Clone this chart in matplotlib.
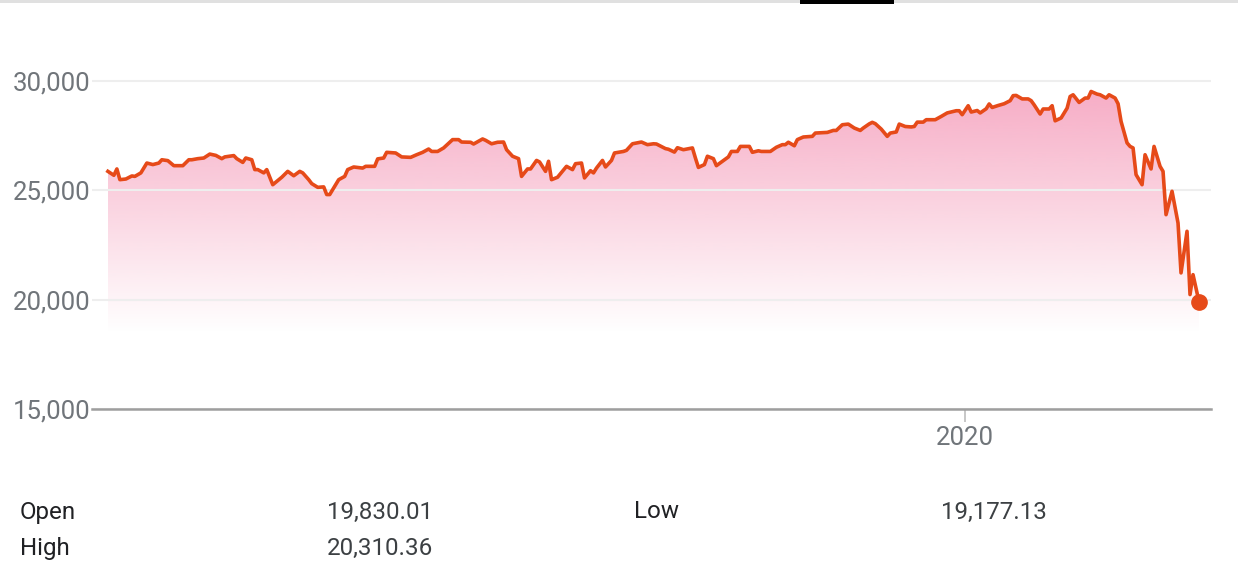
import numpy as np
import pandas as pd
import matplotlib
matplotlib.use("Agg")
import matplotlib.pyplot as plt
import matplotlib.dates as mdates
from matplotlib.patches import Rectangle
from matplotlib.ticker import FuncFormatter

plt.rcParams['font.family'] = ['Roboto', 'DejaVu Sans']

# calendar days since 2019-03-21, and index level
days = [0, 2, 3, 4, 6, 8, 9, 11, 13, 15, 17, 18, 20, 22, 25, 27, 28, 30, 32, 34,
        36, 38, 39, 42, 43, 45, 46, 48, 49, 50, 52, 53, 55, 57, 58, 60, 62, 64, 65, 67,
        68, 70, 72, 73, 74, 76, 77, 79, 80, 82, 85, 86, 89, 90, 92, 93, 96, 98, 101, 103,
        105, 107, 108, 110, 112, 115, 117, 118, 121, 122, 125, 126, 128, 130, 132, 133, 135, 137, 138, 140,
        141, 143, 144, 146, 147, 148, 150, 153, 155, 156, 158, 159, 161, 162, 163, 165, 166, 168, 169, 172,
        173, 175, 178, 180, 182, 183, 186, 187, 189, 190, 192, 195, 196, 197, 199, 200, 202, 203, 205, 207,
        208, 210, 211, 214, 215, 217, 218, 221, 223, 225, 226, 227, 229, 230, 232, 235, 236, 240, 242, 243,
        245, 247, 249, 251, 252, 254, 255, 256, 258, 260, 261, 263, 264, 266, 268, 269, 270, 272, 273, 276,
        278, 280, 283, 284, 285, 287, 288, 290, 291, 293, 294, 295, 297, 299, 301, 302, 303, 305, 307, 308,
        309, 311, 312, 314, 315, 316, 318, 320, 321, 322, 324, 326, 327, 328, 330, 331, 333, 334, 336, 337,
        338, 340, 341, 342, 343, 345, 346, 348, 349, 351, 352, 353, 355, 357, 358, 360, 361, 362, 364]
values = [25860, 25680, 25970, 25480, 25510, 25650, 25630, 25790, 26240, 26170, 26240, 26390, 26350, 26120, 26120, 26390, 26390, 26440, 26470, 26650,
          26590, 26440, 26520, 26580, 26440, 26270, 26470, 26390, 25940, 25940, 25790, 25940, 25250, 25480, 25590, 25860, 25660, 25860, 25790, 25480,
          25300, 25130, 25150, 24800, 24800, 25250, 25480, 25630, 25940, 26060, 26010, 26090, 26090, 26430, 26470, 26730, 26700, 26520, 26500, 26620,
          26730, 26880, 26770, 26770, 26930, 27310, 27310, 27200, 27190, 27110, 27340, 27280, 27120, 27190, 27200, 26850, 26550, 26440, 25630, 25970,
          25970, 26360, 26290, 25860, 26320, 25480, 25590, 26090, 25940, 26210, 26240, 25560, 25890, 25790, 26010, 26360, 26060, 26360, 26700, 26770,
          26820, 27120, 27200, 27080, 27120, 27110, 26900, 26870, 26740, 26940, 26850, 26930, 26470, 26040, 26170, 26550, 26440, 26120, 26320, 26520,
          26770, 26770, 27000, 27000, 26730, 26800, 26770, 26770, 26960, 27080, 27080, 27190, 27030, 27310, 27430, 27460, 27610, 27640, 27730, 27730,
          27990, 28020, 27840, 27730, 27840, 28030, 28100, 28040, 27790, 27460, 27610, 27660, 28020, 27910, 27890, 27910, 28110, 28110, 28220, 28220,
          28370, 28530, 28630, 28630, 28450, 28860, 28570, 28640, 28530, 28720, 28940, 28780, 28870, 28950, 29090, 29320, 29330, 29170, 29170, 29090,
          28900, 28480, 28710, 28710, 28860, 28170, 28300, 28750, 29280, 29360, 29010, 29210, 29210, 29510, 29390, 29360, 29210, 29360, 29210, 28950,
          28140, 27160, 27000, 26930, 25710, 25250, 26620, 25970, 27000, 26090, 25860, 23880, 24950, 23500, 21220, 23120, 20230, 21140, 19900]

y_ticks = [15000, 20000, 25000, 30000]
stat_labels = ['Open', 'High', 'Low']
stat_values = ['19,830.01', '20,310.36', '19,177.13']

line_col = '#e64a19'
start = pd.Timestamp('2019-03-21')
dates = start + pd.to_timedelta(days, unit='D')
xd = mdates.date2num(dates)

fig = plt.figure(figsize=(12.38, 5.64), dpi=100)
ax = fig.add_axes([92 / 1238, 155 / 564, 1119 / 1238, 372 / 564])

y_bot, y_top = 15000, 32000
x_lo = mdates.date2num(start - pd.Timedelta(days=5.3))
x_hi = mdates.date2num(dates[-1] + pd.Timedelta(days=4))

# pink gradient under the line
poly = ax.fill_between(xd, values, y_bot, facecolor='none', edgecolor='none')
n = 400
lev = np.linspace(y_bot, 30000, n)
alpha = np.clip((lev - 18500) / (29600 - 18500), 0, 1) * 0.74
grad = np.zeros((n, 1, 4))
grad[:, 0, 0] = 244 / 255
grad[:, 0, 1] = 143 / 255
grad[:, 0, 2] = 177 / 255
grad[:, 0, 3] = alpha
im = ax.imshow(grad, extent=[xd[0], xd[-1], y_bot, 30000], origin='lower',
               aspect='auto', zorder=1, interpolation='bilinear')
im.set_clip_path(poly.get_paths()[0], transform=ax.transData)

ax.plot(xd, values, color=line_col, lw=2.6, zorder=3)
ax.plot(xd[-1], values[-1], 'o', ms=11, color=line_col, zorder=4)

ax.set_xlim(x_lo, x_hi)
ax.set_ylim(y_bot, y_top)
ax.set_yticks(y_ticks)
ax.yaxis.set_major_formatter(FuncFormatter(lambda v, p: f'{int(v):,}'))
ax.xaxis.set_major_locator(mdates.YearLocator())
ax.xaxis.set_major_formatter(mdates.DateFormatter('%Y'))

ax.grid(axis='y', color='#eeeeee', lw=1.5, zorder=0)
for s in ['top', 'right', 'left']:
    ax.spines[s].set_visible(False)
ax.spines['bottom'].set_color('#9e9e9e')
ax.spines['bottom'].set_linewidth(1.8)
ax.spines['bottom'].set_zorder(5)
ax.tick_params(axis='y', length=0, pad=1, labelsize=18.5, labelcolor='#70757a')
ax.tick_params(axis='x', length=9.5, width=1.2, color='#bdbdbd', pad=3,
               labelsize=18.5, labelcolor='#70757a')

# stats table under the chart
rows_y = [512, 548, 512]
cols_x = [20, 20, 634]
for lab, val, yy, xx in zip(stat_labels, stat_values, rows_y, cols_x):
    fig.text(xx / 1238, 1 - yy / 564, lab, fontsize=17.4, color='#202124', va='center')
    fig.text((xx + 307) / 1238, 1 - yy / 564, val, fontsize=17.4, color='#3c4043', va='center')

# tab bar at the very top
fig.add_artist(Rectangle((0, 1 - 2.5 / 564), 1, 2.5 / 564, transform=fig.transFigure,
                         color='#e0e0e0', lw=0))
fig.add_artist(Rectangle((800 / 1238, 1 - 4 / 564), 94 / 1238, 4 / 564,
                         transform=fig.transFigure, color='black', lw=0))

fig.savefig('out.png', dpi=100)
